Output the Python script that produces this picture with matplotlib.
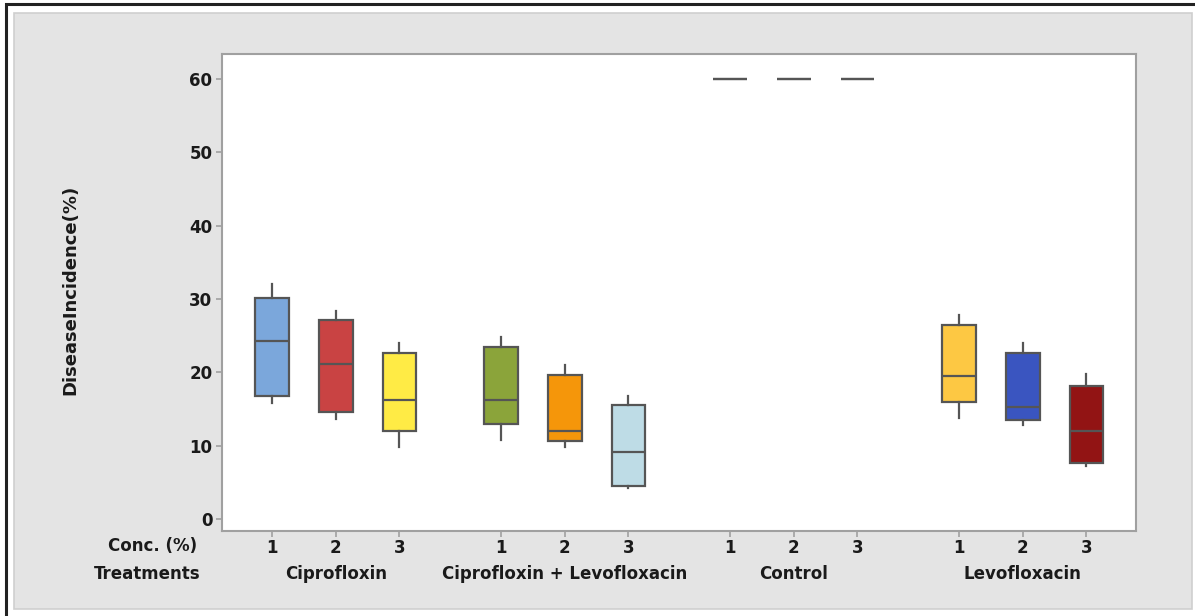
import matplotlib
matplotlib.use("Agg")
import matplotlib.pyplot as plt
from matplotlib.patches import Rectangle

# Disease incidence (%) summary per treatment x concentration
treatments = ["Ciprofloxin", "Ciprofloxin + Levofloxacin", "Control", "Levofloxacin"]
concentrations = ["1", "2", "3"]

whisker_low = [15.8, 13.7, 9.9,   10.8, 9.9, 4.3,   60, 60, 60,   13.8, 12.8, 7.3]
q1          = [16.8, 14.6, 12.0,  13.0, 10.6, 4.6,  60, 60, 60,   16.0, 13.5, 7.6]
median      = [24.3, 21.2, 16.2,  16.2, 12.0, 9.1,  60, 60, 60,   19.5, 15.3, 12.0]
q3          = [30.1, 27.1, 22.7,  23.5, 19.7, 15.6, 60, 60, 60,   26.5, 22.7, 18.2]
whisker_high = [32.0, 28.4, 24.0, 24.9, 21.0, 16.8, 60, 60, 60,   27.9, 24.0, 19.8]

box_colors = ["#7BA7DB", "#C94343", "#FFEB45",
              "#8BA43A", "#F5960A", "#BEDCE6",
              "#FFFFFF", "#FFFFFF", "#FFFFFF",
              "#FDC843", "#3A55C0", "#921414"]

W, H = 1195, 616
fig = plt.figure(figsize=(W / 100, H / 100), dpi=100)
fig.patch.set_facecolor("white")

# outer frame and grey panel (behind the axes)
fig.add_artist(Rectangle((6 / W, -0.01), 1.1, (H - 4.5) / H + 0.01, transform=fig.transFigure,
                         facecolor="none", edgecolor="#222222", lw=2.2, zorder=-5))
fig.add_artist(Rectangle((14 / W, (H - 609) / H), (1192 - 14) / W, (609 - 13) / H,
                         transform=fig.transFigure, facecolor="#E4E4E4",
                         edgecolor="#CFCFCF", lw=1.2, zorder=-4))

left, right, top, bottom = 222, 1136, 54, 531
ax = fig.add_axes([left / W, (H - bottom) / H, (right - left) / W, (bottom - top) / H])
ax.set_facecolor("white")
ax.set_zorder(1)

# positions: three concentrations per treatment, with a gap between treatments
step = 3.6
positions = []
for g in range(len(treatments)):
    for c in range(len(concentrations)):
        positions.append(1 + g * step + c)

stats = []
for i in range(len(positions)):
    stats.append(dict(whislo=whisker_low[i], q1=q1[i], med=median[i],
                      q3=q3[i], whishi=whisker_high[i], fliers=[]))

edge = "#555555"
bp = ax.bxp(stats, positions=positions, widths=0.53, patch_artist=True,
            showcaps=False, showfliers=False,
            boxprops=dict(edgecolor=edge, linewidth=1.6),
            medianprops=dict(color=edge, linewidth=1.6),
            whiskerprops=dict(color=edge, linewidth=1.6))
for patch, col in zip(bp["boxes"], box_colors):
    patch.set_facecolor(col)

ax.set_xlim(0.21, 14.58)
ax.set_ylim(-1.6, 63.4)
ax.set_yticks([0, 10, 20, 30, 40, 50, 60])
ax.set_xticks(positions)
ax.set_xticklabels(concentrations * len(treatments))

for s in ax.spines.values():
    s.set_color("#A0A0A0")
    s.set_linewidth(1.5)

fs = 12
tick_font = dict(fontsize=fs, fontweight="bold", color="#1A1A1A")
ax.tick_params(axis="both", colors="#A0A0A0", length=4, width=1.2)
for lab in ax.get_yticklabels() + ax.get_xticklabels():
    lab.set_fontsize(fs)
    lab.set_fontweight("bold")
    lab.set_color("#1A1A1A")
ax.tick_params(axis="x", pad=2)
ax.tick_params(axis="y", pad=3)

# treatment names under the middle concentration of each group
name_y = -(574 - bottom) / (bottom - top)
for g, name in enumerate(treatments):
    xc = positions[g * 3 + 1]
    ax.text(xc, name_y, name, transform=ax.get_xaxis_transform(),
            ha="center", va="center", clip_on=False, **tick_font)

fig.text(197 / W, 1 - 546 / H, "Conc. (%)", ha="right", va="center", **tick_font)
fig.text(200 / W, 1 - 574 / H, "Treatments", ha="right", va="center", **tick_font)

fig.text(70 / W, 1 - 290 / H, "DiseaseIncidence(%)", rotation=90,
         ha="center", va="center", fontsize=13, fontweight="bold", color="#1A1A1A")

fig.savefig("out.png", dpi=100, facecolor=fig.get_facecolor())
